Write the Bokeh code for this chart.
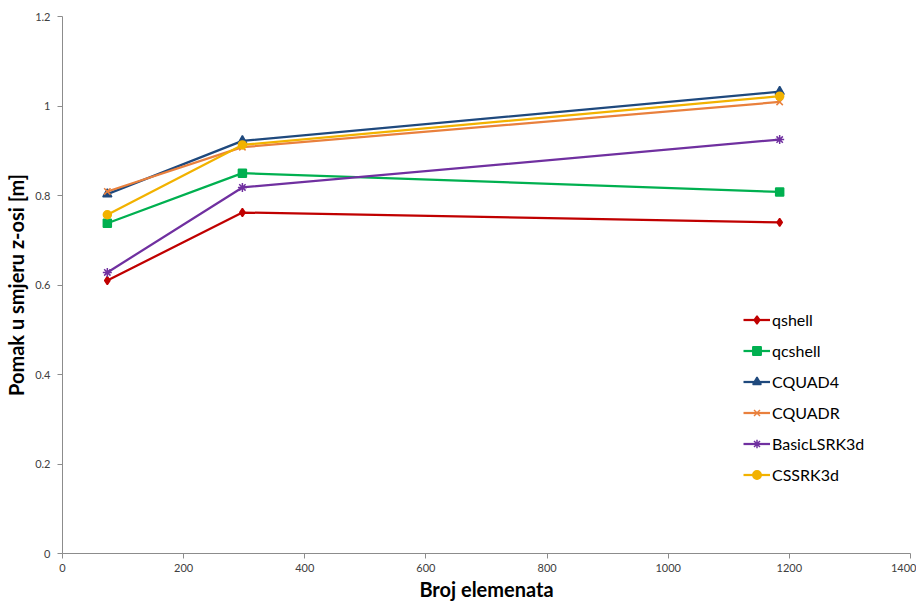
from bokeh.plotting import figure
from bokeh.models import Legend, LegendItem, Range1d, FixedTicker
from bokeh.embed import file_html
from bokeh.resources import INLINE

# Data
x_vals = [74, 297, 1184]
qshell = [0.610, 0.762, 0.740]
qcshell = [0.738, 0.850, 0.808]
cquad4 = [0.803, 0.922, 1.032]
cquadr = [0.809, 0.908, 1.009]
basiclsrk3d = [0.628, 0.818, 0.925]
cssrk3d = [0.757, 0.913, 1.022]

series_names = ["qshell", "qcshell", "CQUAD4", "CQUADR", "BasicLSRK3d", "CSSRK3d"]
series_vals = [qshell, qcshell, cquad4, cquadr, basiclsrk3d, cssrk3d]
colors = ["#C00000", "#00B050", "#1F497D", "#E9803D", "#7030A0", "#F2B200"]
markers = ["diamond", "square", "triangle", "x", "asterisk", "circle"]
msizes = [8, 8, 9, 9, 9, 8]

x_ticks = [0, 200, 400, 600, 800, 1000, 1200, 1400]
y_ticks = [0, 0.2, 0.4, 0.6, 0.8, 1.0, 1.2]
y_tick_labels = {0: "0", 0.2: "0.2", 0.4: "0.4", 0.6: "0.6", 0.8: "0.8", 1.0: "1", 1.2: "1.2"}

FONT = "Lato"

p = figure(width=916, height=604, output_backend="svg", toolbar_location=None,
           x_range=Range1d(0, 1400), y_range=Range1d(0, 1.2),
           min_border_left=62, min_border_right=6, min_border_top=16, min_border_bottom=51)
p.outline_line_color = None
p.xgrid.grid_line_color = None
p.ygrid.grid_line_color = None
p.background_fill_color = "white"
p.border_fill_color = "white"

for ax in (p.xaxis[0], p.yaxis[0]):
    ax.axis_line_color = "#8C8C8C"
    ax.major_tick_line_color = "#8C8C8C"
    ax.minor_tick_line_color = None
    ax.major_tick_out = 5
    ax.major_tick_in = 0
    ax.major_label_text_font = FONT
    ax.major_label_text_font_size = "11px"
    ax.major_label_text_color = "#404040"
    ax.axis_label_text_font = FONT
    ax.axis_label_text_font_style = "bold"
    ax.axis_label_text_font_size = "20px"
    ax.axis_label_text_color = "#000000"

p.xaxis.ticker = FixedTicker(ticks=x_ticks)
p.yaxis.ticker = FixedTicker(ticks=y_ticks)
p.yaxis.major_label_overrides = y_tick_labels
p.xaxis.axis_label = "Broj elemenata"
p.yaxis.axis_label = "Pomak u smjeru z-osi [m]"
p.xaxis.major_label_standoff = 5
p.xaxis.axis_label_standoff = 2
p.yaxis.major_label_standoff = 7
p.yaxis.axis_label_standoff = 4

items = []
for name, vals, c, m, s in zip(series_names, series_vals, colors, markers, msizes):
    r1 = p.line(x_vals, vals, line_color=c, line_width=2.25)
    r2 = p.scatter(x_vals, vals, marker=m, size=s, fill_color=c, line_color=c, line_width=1.5)
    items.append(LegendItem(label=name, renderers=[r1, r2]))

legend = Legend(items=items, location=(681, 68))
legend.background_fill_alpha = 0
legend.border_line_color = None
legend.label_text_font = FONT
legend.label_text_font_size = "16px"
legend.label_text_color = "#000000"
legend.glyph_width = 27
legend.glyph_height = 21
legend.label_height = 21
legend.label_standoff = 2
legend.spacing = 10
legend.padding = 0
legend.margin = 0
p.add_layout(legend, "center")

open("out.html", "w").write(file_html(p, INLINE))
